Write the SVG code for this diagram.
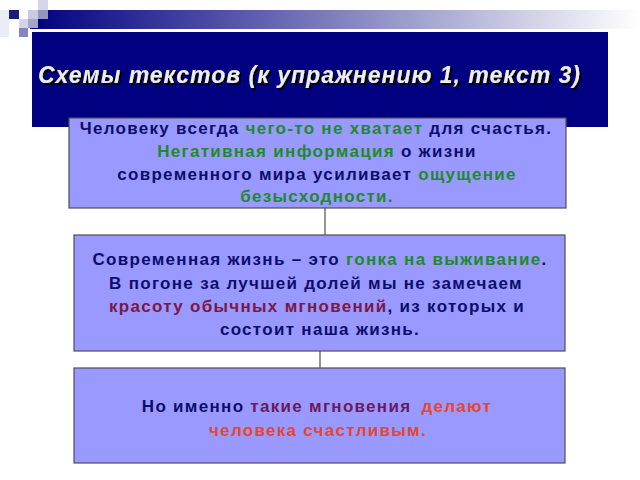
<svg xmlns="http://www.w3.org/2000/svg" width="640" height="480" viewBox="0 0 640 480">
<defs>
<linearGradient id="bar" x1="0" y1="0" x2="1" y2="0">
<stop offset="0" stop-color="#000080"/>
<stop offset="0.55" stop-color="#8c8cc4"/>
<stop offset="1" stop-color="#ffffff"/>
</linearGradient>
<filter id="sh" x="-5%" y="-30%" width="110%" height="160%">
<feDropShadow dx="2" dy="2" stdDeviation="0.6" flood-color="#000000" flood-opacity="1"/>
</filter>
<style>
.box{fill:#9999ff;stroke:#4d4d5a;stroke-width:1.2}
.t{font-family:"Liberation Sans",Arial,sans-serif;font-weight:bold;font-size:17px;letter-spacing:1.3px;text-anchor:middle;fill:#0d0d6b}
.g{fill:#1e8a2a}
.m{fill:#7a1846}
.p{fill:#6a1a5e}
.r{fill:#e8452c}
.conn{stroke:#4d4d4d;stroke-width:1.2;fill:none}
.title{font-family:"Liberation Sans",Arial,sans-serif;font-weight:bold;font-style:italic;font-size:23px;letter-spacing:1px;fill:#ececf2}
</style>
</defs>
<rect width="640" height="480" fill="#ffffff"/>
<g id="decor">
<rect x="30" y="10" width="610" height="19" fill="url(#bar)"/>
<rect x="0" y="10" width="9" height="27" fill="#ececf6"/>
<rect x="9" y="10" width="10" height="9" fill="#1a1a80"/>
<rect x="38" y="0" width="10" height="10" fill="#d4d4ea"/>
<rect x="28" y="10" width="10" height="9" fill="#cacae4"/>
<rect x="38" y="10" width="10" height="9" fill="#9494c4"/>
<rect x="19" y="19" width="9" height="9" fill="#d4d4ea"/>
<rect x="28" y="19" width="10" height="9" fill="#a4a4ce"/>
<rect x="19" y="28" width="9" height="9" fill="#8484bc"/>
</g>
<g id="title">
<rect x="32" y="32" width="576" height="95" fill="#000080"/>
<text x="38" y="83" class="title" filter="url(#sh)">Схемы текстов (к упражнению 1, текст 3)</text>
</g>
<g id="connectors">
<line class="conn" x1="325" y1="208" x2="325" y2="235"/>
<line class="conn" x1="320" y1="351" x2="320" y2="368"/>
</g>
<g id="node1">
<rect class="box" x="69" y="118" width="497" height="90"/>
<text class="t" x="316" y="134">Человеку всегда <tspan class="g">чего-то не хватает</tspan> для счастья.</text>
<text class="t" x="317" y="157"><tspan class="g">Негативная информация</tspan> о жизни</text>
<text class="t" x="317" y="180">современного мира усиливает <tspan class="g">ощущение</tspan></text>
<text class="t g" x="317" y="202">безысходности.</text>
</g>
<g id="node2">
<rect class="box" x="74" y="235" width="491" height="116"/>
<text class="t" x="320" y="265">Современная жизнь – это <tspan class="g">гонка на выживание</tspan>.</text>
<text class="t" x="316" y="289">В погоне за лучшей долей мы не замечаем</text>
<text class="t" x="317" y="312"><tspan class="m">красоту обычных мгновений</tspan>, из которых и</text>
<text class="t" x="320" y="335">состоит наша жизнь.</text>
</g>
<g id="node3">
<rect class="box" x="74" y="368" width="491" height="95"/>
<text class="t" x="317" y="412">Но именно <tspan class="p">такие мгновения</tspan> <tspan class="r" dx="4">делают</tspan></text>
<text class="t r" x="318" y="436">человека счастливым.</text>
</g>
</svg>
